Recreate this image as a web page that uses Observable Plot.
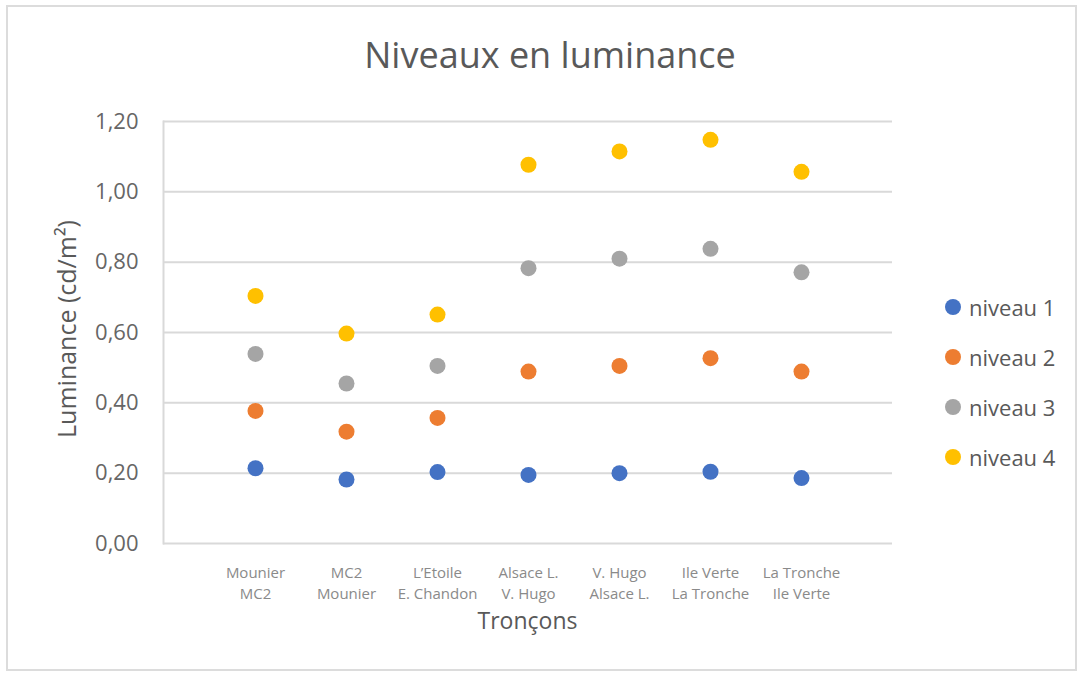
<!DOCTYPE html>
<html><head><meta charset="utf-8">
<script src="https://cdn.jsdelivr.net/npm/d3@7"></script>
<script src="https://cdn.jsdelivr.net/npm/@observablehq/plot@0.6"></script>
<style>
body{margin:0;background:#fff;font-family:"Open Sans",sans-serif;}
#wrap{position:relative;width:1082px;height:673px;overflow:hidden;background:#fff}
#frame{position:absolute;left:6px;top:5px;width:1071px;height:666px;border:2px solid #dcdcdc;box-sizing:border-box}
#chart{position:absolute;left:0;top:0}
#title{position:absolute;left:0;top:37px;width:1100px;text-align:center;font-size:36px;line-height:36px;color:#595959}
#xtitle{position:absolute;left:0;top:605px;width:1055px;text-align:center;font-size:23px;line-height:30px;color:#595959}
#ytitle{position:absolute;left:66px;top:329px;transform:translate(-50%,-50%) rotate(-90deg);white-space:nowrap;font-size:25px;line-height:30px;color:#595959}
#legend{position:absolute;left:945px;top:282px}
.row{display:flex;align-items:center;height:50px}
.sw{width:16px;height:16px;border-radius:50%;margin-right:8px}
.lab{font-size:22px;color:#595959;line-height:30px}
</style></head>
<body>
<div id="wrap">
  <div id="frame"></div>
  <div id="chart"></div>
  <div id="title">Niveaux en luminance</div>
  <div id="ytitle">Luminance (cd/m²)</div>
  <div id="xtitle">Tronçons</div>
  <div id="legend"></div>
</div>
<script>
const categories = ["Mounier\nMC2","MC2\nMounier","L’Etoile\nE. Chandon","Alsace L.\nV. Hugo","V. Hugo\nAlsace L.","Ile Verte\nLa Tronche","La Tronche\nIle Verte"];
const niveau1 = [0.214,0.182,0.203,0.195,0.200,0.204,0.186];
const niveau2 = [0.377,0.318,0.357,0.489,0.505,0.527,0.489];
const niveau3 = [0.539,0.455,0.505,0.783,0.810,0.838,0.771];
const niveau4 = [0.704,0.597,0.651,1.077,1.115,1.148,1.057];
const seriesNames = ["niveau 1","niveau 2","niveau 3","niveau 4"];
const seriesColors = ["#4472C4","#ED7D31","#A5A5A5","#FFC000"];
const yTicks = [0,0.2,0.4,0.6,0.8,1.0,1.2];

const seriesValues = [niveau1,niveau2,niveau3,niveau4];
const data = [];
seriesValues.forEach((vals,si)=>vals.forEach((v,i)=>data.push({cat:categories[i],series:seriesNames[si],value:v})));
const fmt = d => d.toFixed(2).replace(".",",");

const chart = Plot.plot({
  width:1082, height:673,
  marginLeft:163, marginRight:190, marginTop:121, marginBottom:130,
  style:{fontFamily:"Open Sans, sans-serif", background:"transparent", overflow:"visible"},
  x:{type:"point", domain:categories, padding:0.98, label:null},
  y:{domain:[0,1.2], label:null},
  color:{domain:seriesNames, range:seriesColors},
  marks:[
    Plot.gridY(yTicks,{stroke:"#d9d9d9",strokeOpacity:1,strokeWidth:2}),
    Plot.frame({anchor:"left",stroke:"#d9d9d9",strokeWidth:2}),
    Plot.axisY(yTicks,{tickSize:0,tickPadding:25,tickFormat:fmt,fontSize:22,fill:"#666",label:null}),
    Plot.axisX({tickSize:0,tickPadding:19,fontSize:15,fill:"#8a8a8a",lineHeight:1.42,label:null,tickFormat:d=>d}),
    Plot.dot(data,{x:"cat",y:"value",fill:"series",r:8})
  ]
});
document.getElementById("chart").appendChild(chart);

const lg = document.getElementById("legend");
seriesNames.forEach((n,i)=>{
  const row = document.createElement("div"); row.className="row";
  const sw = document.createElement("div"); sw.className="sw"; sw.style.background=seriesColors[i];
  const lb = document.createElement("div"); lb.className="lab"; lb.textContent=n;
  row.appendChild(sw); row.appendChild(lb); lg.appendChild(row);
});
</script>
</body></html>
